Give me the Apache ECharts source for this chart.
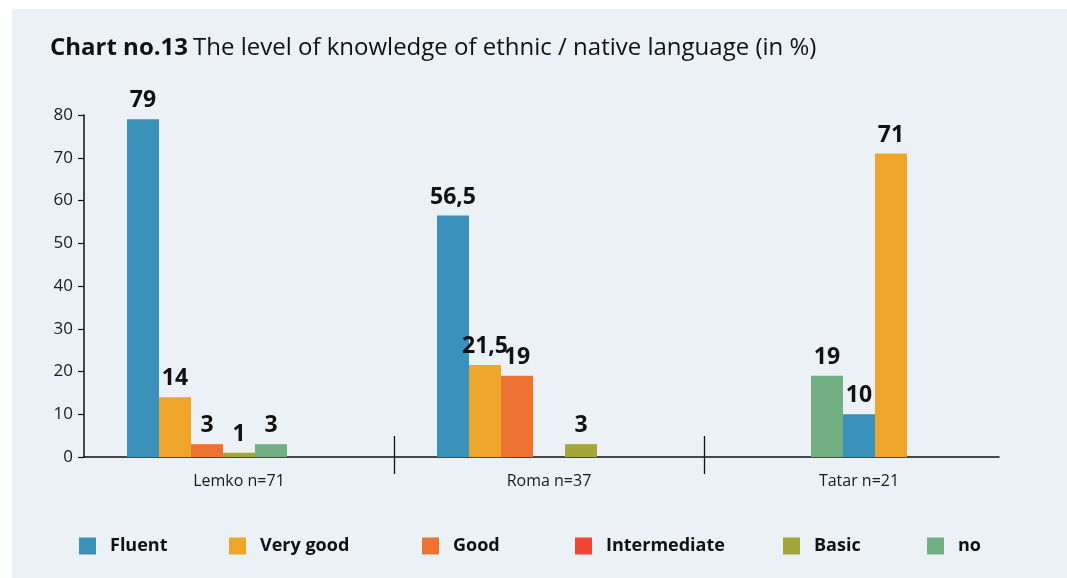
<!DOCTYPE html>
<html>
<head>
<meta charset="utf-8">
<style>
  html, body { margin: 0; padding: 0; background: #ffffff; }
  #chart { width: 1067px; height: 578px; }
</style>
<script src="https://cdn.jsdelivr.net/npm/echarts@6/dist/echarts.min.js"></script>
</head>
<body>
<div id="chart"></div>
<script>
// Survey groups shown on the x axis
const groups = ['Lemko n=71', 'Roma n=37', 'Tatar n=21'];

// Knowledge levels (legend order)
const levels = ['Fluent', 'Very good', 'Good', 'Intermediate', 'Basic', 'no'];

// Share of respondents per level, in %, one value per group (null = not reported)
const fluent       = [79, 56.5, 10];
const veryGood     = [14, 21.5, 71];
const good         = [3, 19, null];
const intermediate = [null, null, null];
const basic        = [1, 3, null];
const noKnowledge  = [3, null, 19];

// Y axis ticks
const yTicks = [0, 10, 20, 30, 40, 50, 60, 70, 80];

// Left-to-right order of bars inside each group (null = empty position)
const barOrder = [
  ['Fluent', 'Very good', 'Good', 'Basic', 'no'],
  ['Fluent', 'Very good', 'Good', null, 'Basic'],
  [null, null, 'no', 'Fluent', 'Very good']
];

const valuesByLevel = {
  'Fluent': fluent,
  'Very good': veryGood,
  'Good': good,
  'Intermediate': intermediate,
  'Basic': basic,
  'no': noKnowledge
};

const levelColors = {
  'Fluent': '#3a91b9',
  'Very good': '#eea52a',
  'Good': '#ee7232',
  'Intermediate': '#f04434',
  'Basic': '#a5a63a',
  'no': '#72b084'
};

const FONT = '"Open Sans", "Noto Sans", sans-serif';
const SLOT_COUNT = 7;        // positions reserved per group
const BAR_WIDTH = 32;

// One bar series per position inside a group; each bar keeps its level's colour
const slotSeries = [];
for (let s = 0; s < SLOT_COUNT; s++) {
  const data = groups.map(function (g, gi) {
    const level = barOrder[gi][s];
    if (!level) return { value: '-' };
    const v = valuesByLevel[level][gi];
    if (v === null || v === undefined) return { value: '-' };
    return { value: v, itemStyle: { color: levelColors[level] } };
  });
  slotSeries.push({
    type: 'bar',
    xAxisIndex: 0,
    yAxisIndex: 0,
    barWidth: BAR_WIDTH,
    barGap: '0%',
    data: data,
    silent: true,
    label: {
      show: true,
      position: 'top',
      distance: 7,
      fontFamily: FONT,
      fontSize: 23,
      fontWeight: 'bold',
      color: '#111111',
      formatter: function (p) { return String(p.value).replace('.', ','); }
    }
  });
}

// Legend entries (no marks of their own)
const legendSeries = levels.map(function (name) {
  return {
    type: 'line',
    name: name,
    xAxisIndex: 0,
    yAxisIndex: 0,
    data: [],
    itemStyle: { color: levelColors[name] },
    lineStyle: { color: levelColors[name] }
  };
});

const legendLeft = [79, 229, 422, 575, 783, 927];
const legends = levels.map(function (name, i) {
  return {
    data: [name],
    left: legendLeft[i],
    top: 537,
    padding: 0,
    icon: 'rect',
    itemWidth: 17,
    itemHeight: 17,
    selectedMode: false,
    textStyle: {
      fontFamily: FONT,
      fontSize: 18,
      fontWeight: 'bold',
      color: '#111111',
      padding: [0, 0, 0, 9]
    }
  };
});

const chart = echarts.init(document.getElementById('chart'), null, { renderer: 'canvas' });

chart.setOption({
  backgroundColor: '#ffffff',
  animation: false,
  graphic: [{
    type: 'rect',
    left: 12,
    top: 9,
    z: -10,
    shape: { width: 1055, height: 569 },
    style: { fill: '#ecf1f6' }
  }],
  title: {
    left: 50,
    top: 36,
    padding: 0,
    text: '{b|Chart no.13} {r|The level of knowledge of ethnic / native language (in %)}',
    textStyle: {
      rich: {
        b: { fontFamily: FONT, fontSize: 24, fontWeight: 'bold', color: '#111111' },
        r: { fontFamily: FONT, fontSize: 24, fontWeight: 'normal', color: '#111111' }
      }
    }
  },
  legend: legends,
  grid: [
    // bars
    { left: 84, width: 930, top: 115, bottom: 121, containLabel: false },
    // group separators crossing the axis
    { left: 84, width: 930, top: 436, height: 38, containLabel: false },
    // baseline
    { left: 84, width: 915, top: 400, height: 57, containLabel: false }
  ],
  xAxis: [
    {
      gridIndex: 0,
      type: 'category',
      data: groups,
      axisLine: { show: false },
      axisTick: { show: false },
      axisLabel: { fontFamily: FONT, fontSize: 16, color: '#1a1a1a', margin: 16 }
    },
    {
      gridIndex: 1,
      type: 'category',
      data: groups,
      axisLine: { show: false },
      axisTick: { show: false },
      axisLabel: { show: false },
      splitLine: {
        show: true,
        showMinLine: false,
        showMaxLine: false,
        lineStyle: { color: '#111111', width: 1.3 }
      }
    },
    {
      gridIndex: 2,
      type: 'category',
      data: [''],
      axisLine: { show: true, lineStyle: { color: '#111111', width: 1.5 } },
      axisTick: { show: false },
      axisLabel: { show: false }
    }
  ],
  yAxis: [
    {
      gridIndex: 0,
      type: 'value',
      min: yTicks[0],
      max: yTicks[yTicks.length - 1],
      interval: yTicks[1] - yTicks[0],
      splitLine: { show: false },
      axisLine: { show: true, lineStyle: { color: '#111111', width: 1.5 } },
      axisTick: { show: true, length: 6, lineStyle: { color: '#111111', width: 1.2 } },
      axisLabel: { fontFamily: FONT, fontSize: 17, color: '#1a1a1a', margin: 11 }
    },
    { gridIndex: 1, type: 'value', show: false },
    { gridIndex: 2, type: 'value', show: false }
  ],
  series: slotSeries.concat(legendSeries)
});
</script>
</body>
</html>
